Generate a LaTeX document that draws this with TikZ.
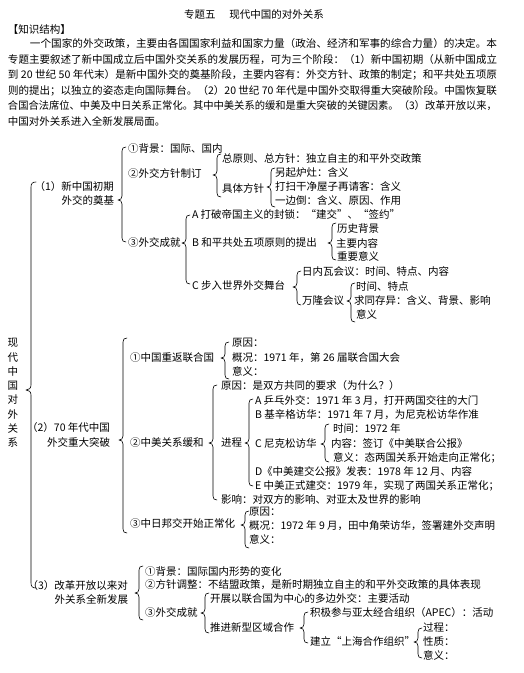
\documentclass[tikz,border=0pt]{standalone}
\usepackage{fontspec}
\usepackage{graphicx}
\setmainfont{Noto Sans CJK SC}
\newcommand{\myfs}{\fontsize{10.5pt}{13pt}\selectfont}
% #1 hook size, #2 x of the line, #3 top y, #4 bottom y, #5 tip y
\newcommand{\mybrace}[5][4]{%
  \draw[bracestyle] ({#2+#1},#3) .. controls ({#2+0.3*#1},#3) and (#2,{#3+0.3*#1}) .. (#2,{#3+#1})
    -- (#2,{#5-#1}) .. controls (#2,{#5-0.35*#1}) and ({#2-0.4*#1},#5) .. ({#2-#1},#5)
    .. controls ({#2-0.4*#1},#5) and (#2,{#5+0.35*#1}) .. (#2,{#5+#1})
    -- (#2,{#4-#1}) .. controls (#2,{#4-0.3*#1}) and ({#2+0.3*#1},#4) .. ({#2+#1},#4);}
\tikzset{
  txt/.style={anchor=west, inner sep=0pt, outer sep=0pt, font=\myfs, text height=8.6pt, text depth=1.4pt},
  vtxt/.style={align=center, inner sep=0pt, font=\fontsize{10.5pt}{14.3pt}\selectfont},
  bracestyle/.style={line width=0.6pt, line cap=round, line join=round},
}
\begin{document}
\begin{tikzpicture}[x=1pt,y=-1pt]
\fill[white] (0,0) rectangle (524,673);
\useasboundingbox (0,0) rectangle (524,673);
% ---------- header ----------
\node[txt, anchor=center] (title) at (254,15) {专题五\hspace{1.3em}现代中国的对外关系};
\node[txt] (kh) at (8,29.5) {【知识结构】};
\node[txt] (p1) at (30,44) {\resizebox{467pt}{\height}{一个国家的外交政策，主要由各国国家利益和国家力量（政治、经济和军事的综合力量）的决定。本}};
\node[txt] (p2) at (8,59.5) {\resizebox{489pt}{\height}{专题主要叙述了新中国成立后中国外交关系的发展历程，可为三个阶段：（1）新中国初期（从新中国成立}};
\node[txt] (p3) at (8,75) {\resizebox{489pt}{\height}{到 20 世纪 50 年代末）是新中国外交的奠基阶段，主要内容有：外交方针、政策的制定；和平共处五项原}};
\node[txt] (p4) at (8,90.5) {\resizebox{489pt}{\height}{则的提出；以独立的姿态走向国际舞台。（2）20 世纪 70 年代是中国外交取得重大突破阶段。中国恢复联}};
\node[txt] (p5) at (8,106) {\resizebox{489pt}{\height}{合国合法席位、中美及中日关系正常化。其中中美关系的缓和是重大突破的关键因素。（3）改革开放以来，}};
\node[txt] (p6) at (8,121.5) {中国对外关系进入全新发展局面。};
% ---------- level 0 ----------
\node[vtxt] (root) at (13,393) {现\\代\\中\\国\\对\\外\\关\\系};
\mybrace[5]{31}{182}{588}{390}
% ---------- level 1 ----------
\node[txt, anchor=east] (s1a) at (114,187) {（1）新中国初期};
\node[txt, anchor=east] (s1b) at (114,201) {外交的奠基};
\node[txt, anchor=east] (s2a) at (110,428) {（2）70 年代中国};
\node[txt, anchor=east] (s2b) at (110,443) {外交重大突破};
\node[txt, anchor=east] (s3a) at (128,586) {（3）改革开放以来对};
\node[txt, anchor=east] (s3b) at (128,600) {外关系全新发展};
\mybrace{122}{147}{242}{200}
\mybrace{123}{338}{533}{440}
\mybrace{139}{566}{620}{593}
% ---------- part (1) ----------
\node[txt] (a1) at (128,149) {①背景：国际、国内};
\node[txt] (a2) at (128,174) {②外交方针制订};
\mybrace{217}{154}{197}{175}
\node[txt] (a21) at (222,159) {总原则、总方针：独立自主的和平外交政策};
\node[txt] (a22) at (222,189) {具体方针};
\mybrace{271}{168}{207}{187}
\node[txt] (a221) at (275,173) {另起炉灶：含义};
\node[txt] (a222) at (275,187) {打扫干净屋子再请客：含义};
\node[txt] (a223) at (275,201) {一边倒：含义、原因、作用};
\node[txt] (a3) at (128,243) {③外交成就};
\mybrace{186}{215}{284}{243}
\node[txt] (aA) at (192,215) {A 打破帝国主义的封锁：“建交”、“签约”};
\node[txt] (aB) at (192,243) {B 和平共处五项原则的提出};
\mybrace{332}{223}{260}{243}
\node[txt] (aB1) at (337,229) {历史背景};
\node[txt] (aB2) at (336,244) {主要内容};
\node[txt] (aB3) at (337,257) {重要意义};
\node[txt] (aC) at (192,286) {C 步入世界外交舞台};
\mybrace{297}{271}{305}{287}
\node[txt] (aC1) at (302,272) {日内瓦会议：时间、特点、内容};
\node[txt] (aC2) at (302,301) {万隆会议};
\mybrace{351}{283}{322}{301}
\node[txt] (aC21) at (356,287) {时间、特点};
\node[txt] (aC22) at (354,301) {求同存异：含义、背景、影响};
\node[txt] (aC23) at (356,315) {意义};
% ---------- part (2) ----------
\node[txt] (b1) at (130,358) {①中国重返联合国};
\mybrace{225}{342}{379}{358}
\node[txt] (b11) at (232,343) {原因：};
\node[txt] (b12) at (232,358) {概况：1971 年，第 26 届联合国大会};
\node[txt] (b13) at (232,372) {意义：};
\node[txt] (b2) at (130,443) {②中美关系缓和};
\mybrace{213}{385}{500}{443}
\node[txt] (b21) at (221,386) {原因：是双方共同的要求（为什么？）};
\node[txt] (b22) at (221,443) {进程};
\mybrace{249}{399}{486}{443}
\node[txt] (b2A) at (255,401) {A 乒乓外交：1971 年 3 月，打开两国交往的大门};
\node[txt] (b2B) at (255,415) {B 基辛格访华：1971 年 7 月，为尼克松访华作准};
\node[txt] (b2C) at (255,444) {C 尼克松访华};
\mybrace{325}{424}{462}{444}
\node[txt] (b2C1) at (333,429) {时间：1972 年};
\node[txt] (b2C2) at (331,444) {内容：签订《中美联合公报》};
\node[txt] (b2C3) at (333,458) {意义：态两国关系开始走向正常化；};
\node[txt] (b2D) at (255,472) {D《中美建交公报》发表：1978 年 12 月、内容};
\node[txt] (b2E) at (255,486) {E 中美正式建交：1979 年，实现了两国关系正常化；};
\node[txt] (b23) at (221,500) {影响：对双方的影响、对亚太及世界的影响};
\node[txt] (b3) at (130,524) {③中日邦交开始正常化};
\mybrace{245}{511}{548}{525}
\node[txt] (b31) at (249,512) {原因：};
\node[txt] (b32) at (249,526) {概况：1972 年 9 月，田中角荣访华，签署建外交声明};
\node[txt] (b33) at (249,540) {意义：};
% ---------- part (3) ----------
\node[txt] (c1) at (145,572) {①背景：国际国内形势的变化};
\node[txt] (c2) at (145,585) {②方针调整：不结盟政策，是新时期独立自主的和平外交政策的具体表现};
\node[txt] (c3) at (145,613) {③外交成就};
\mybrace{205}{593}{633}{613}
\node[txt] (c31) at (210,599) {开展以联合国为中心的多边外交：主要活动};
\node[txt] (c32) at (210,628) {推进新型区域合作};
\mybrace{304}{612}{643}{628}
\node[txt] (c321) at (310,613) {积极参与亚太经合组织（APEC）：活动};
\node[txt] (c322) at (310,642) {建立“上海合作组织”};
\mybrace{418}{628}{658}{642}
\node[txt] (c3221) at (423,628) {过程：};
\node[txt] (c3222) at (423,642) {性质：};
\node[txt] (c3223) at (423,656) {意义：};
\end{tikzpicture}
\end{document}
